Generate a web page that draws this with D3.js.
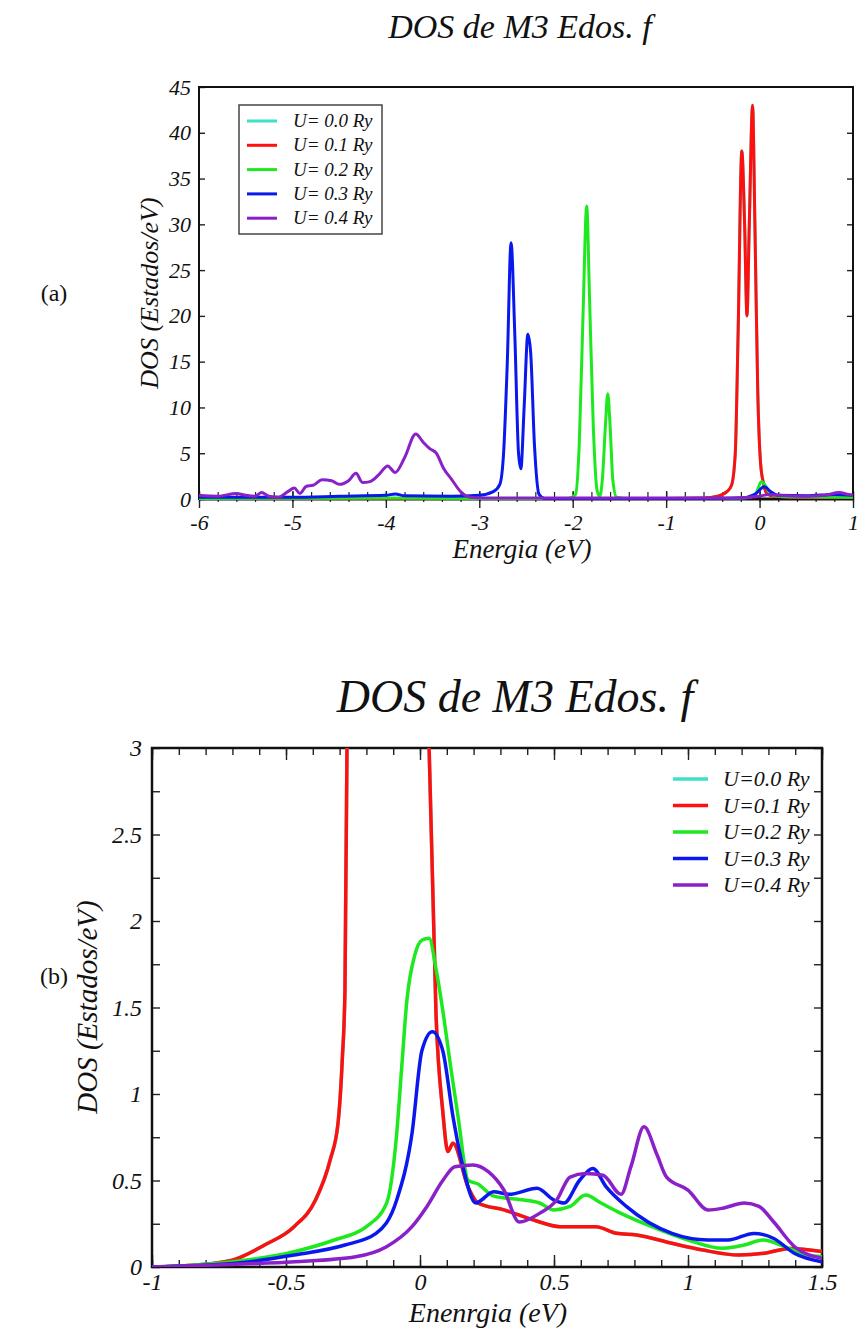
<!doctype html>
<html>
  <head>
    <meta charset="utf-8">
    <title>DOS de M3 Edos. f</title>
    <script src="https://cdnjs.cloudflare.com/ajax/libs/d3/7.8.5/d3.min.js"></script>
    <style>
      body { margin: 0; background: #fff; }
      text { font-family: "Liberation Serif", "Times New Roman", serif; font-style: italic; fill: #111; }
      .panel-tag { font-style: normal; }
      .domain { display: none; }
    </style>
  </head>
  <body>
    <svg id="chart" width="861" height="1331"></svg>

    <script>
    // ---- data ----
    const labels = ['U= 0.0 Ry', 'U= 0.1 Ry', 'U= 0.2 Ry', 'U= 0.3 Ry', 'U= 0.4 Ry'];
    const labelsB = ['U=0.0 Ry', 'U=0.1 Ry', 'U=0.2 Ry', 'U=0.3 Ry', 'U=0.4 Ry'];
    const colors = ['#3fe0c8', '#ff1010', '#1ee81e', '#0a18ee', '#8a20c8'];

    const xTicksA = [-6, -5, -4, -3, -2, -1, 0, 1];
    const yTicksA = [0, 5, 10, 15, 20, 25, 30, 35, 40, 45];
    const xTicksB = [-1, -0.5, 0, 0.5, 1, 1.5];
    const yTicksB = [0, 0.5, 1, 1.5, 2, 2.5, 3];

    // panel (a): energy (eV), DOS
    const aU01 = [[-6,0.05],[-1,0.05],[-0.6,0.1],[-0.45,0.3],[-0.35,0.8],[-0.3,1.5],[-0.26,5],[-0.23,18],
      [-0.19,38],[-0.16,30],[-0.135,20],[-0.11,30],[-0.075,43],[-0.05,30],[-0.02,12],[0.01,4],[0.04,1.8],
      [0.08,0.6],[0.15,0.3],[0.5,0.2],[1,0.2]];
    const aU00 = aU01.map(p => p.slice()); // U=0.0 lies under U=0.1
    const aU02 = [[-6,0.05],[-4,0.1],[-3,0.05],[-2.05,0.05],[-1.97,0.5],[-1.93,6],[-1.89,20],[-1.85,32],
      [-1.82,22],[-1.78,8],[-1.74,1],[-1.71,0.3],[-1.68,2.5],[-1.65,8],[-1.625,11.5],[-1.6,8],[-1.57,2],
      [-1.53,0.2],[-1.4,0.05],[-0.3,0.05],[-0.1,0.2],[-0.03,0.8],[0.02,1.9],[0.06,1.5],[0.12,0.5],[0.2,0.3],[1,0.2]];
    const aU03 = [[-6,0.2],[-5,0.2],[-4.5,0.3],[-4,0.4],[-3.9,0.55],[-3.8,0.35],[-3.3,0.3],[-3.0,0.4],
      [-2.85,0.8],[-2.78,1.6],[-2.74,5],[-2.7,15],[-2.66,28],[-2.62,18],[-2.58,5],[-2.555,3.3],[-2.52,10],
      [-2.48,18],[-2.45,16],[-2.41,6],[-2.36,0.5],[-2.3,0.05],[-0.5,0.05],[-0.2,0.1],[-0.05,0.5],[0.05,1.35],
      [0.12,0.8],[0.2,0.4],[0.5,0.35],[0.8,0.5],[1,0.4]];
    const aU04 = [[-6,0.4],[-5.8,0.3],[-5.6,0.6],[-5.5,0.4],[-5.4,0.3],[-5.33,0.7],[-5.25,0.3],[-5.15,0.2],
      [-5.05,0.8],[-4.98,1.2],[-4.92,0.6],[-4.85,1.4],[-4.78,1.5],[-4.68,2.1],[-4.58,2.0],[-4.5,1.6],[-4.4,2.0],
      [-4.32,2.8],[-4.25,1.8],[-4.17,1.9],[-4.08,2.6],[-3.98,3.6],[-3.9,2.9],[-3.8,4.5],[-3.68,7.1],[-3.6,6.2],
      [-3.53,5.5],[-3.46,5.0],[-3.38,3.3],[-3.3,2.2],[-3.2,0.8],[-3.1,0.2],[-2.9,0.1],[-0.3,0.1],[0,0.3],
      [0.1,0.5],[0.2,0.4],[0.5,0.3],[0.7,0.4],[0.85,0.7],[0.95,0.5],[1,0.4]];

    // panel (b): zoom around the Fermi level
    const bU01 = [[-1,0],[-0.85,0.01],[-0.7,0.04],[-0.58,0.127],[-0.47,0.233],[-0.39,0.387],[-0.335,0.62],
      [-0.306,0.83],[-0.29,1.2],[-0.28,1.6],[-0.27,3.5],[-0.25,10],[-0.19,38],[-0.135,20],[-0.075,43],[0,6],
      [0.034,3.0],[0.06,1.45],[0.085,0.9],[0.104,0.667],[0.123,0.715],[0.18,0.46],[0.216,0.37],[0.313,0.33],
      [0.427,0.27],[0.522,0.233],[0.656,0.233],[0.733,0.195],[0.808,0.185],[0.94,0.137],[1.056,0.098],
      [1.19,0.069],[1.284,0.079],[1.38,0.107],[1.5,0.09]];
    const bU00 = bU01.map(p => p.slice()); // hidden under U=0.1
    const bU02 = [[-1,0],[-0.85,0.01],[-0.7,0.03],[-0.47,0.088],[-0.32,0.156],[-0.2,0.233],[-0.125,0.368],
      [-0.087,0.77],[-0.068,1.16],[-0.049,1.54],[-0.02,1.8],[0.008,1.89],[0.034,1.9],[0.06,1.72],[0.09,1.43],
      [0.115,1.15],[0.142,0.87],[0.18,0.5],[0.216,0.48],[0.275,0.41],[0.37,0.39],[0.446,0.37],[0.5,0.33],
      [0.56,0.35],[0.618,0.416],[0.675,0.37],[0.75,0.31],[0.865,0.233],[1.0,0.156],[1.13,0.108],[1.21,0.127],
      [1.28,0.156],[1.36,0.118],[1.44,0.07],[1.5,0.06]];
    const bU03 = [[-1,0],[-0.7,0.02],[-0.47,0.069],[-0.28,0.127],[-0.164,0.194],[-0.087,0.387],[-0.03,0.77],
      [0.007,1.25],[0.046,1.36],[0.085,1.25],[0.123,0.87],[0.16,0.58],[0.208,0.37],[0.275,0.435],[0.332,0.42],
      [0.437,0.455],[0.5,0.387],[0.537,0.37],[0.595,0.5],[0.645,0.57],[0.694,0.465],[0.77,0.35],[0.94,0.194],
      [1.075,0.156],[1.149,0.156],[1.246,0.194],[1.32,0.165],[1.398,0.078],[1.5,0.03]];
    const bU04 = [[-1,0],[-0.7,0.015],[-0.468,0.03],[-0.24,0.059],[-0.125,0.117],[-0.03,0.233],[0.026,0.35],
      [0.085,0.5],[0.13,0.58],[0.198,0.59],[0.256,0.55],[0.313,0.445],[0.37,0.26],[0.446,0.31],[0.51,0.387],
      [0.56,0.52],[0.618,0.54],[0.683,0.53],[0.75,0.42],[0.787,0.58],[0.836,0.81],[0.884,0.65],[0.92,0.52],
      [1.0,0.445],[1.075,0.33],[1.13,0.34],[1.21,0.37],[1.265,0.35],[1.32,0.26],[1.398,0.117],[1.5,0.05]];

    const svg = d3.select('#chart');
    const fmt = d => String(d);

    // ================= panel (a) =================
    const xa = d3.scaleLinear().domain([-6, 1]).range([199, 853]);
    const ya = d3.scaleLinear().domain([0, 45]).range([499, 87]);
    const ga = svg.append('g');

    ga.append('text').attr('x', 520).attr('y', 38).attr('text-anchor', 'middle')
      .style('font-size', '34px').text('DOS de M3 Edos. f');
    ga.append('text').attr('class', 'panel-tag').attr('x', 54).attr('y', 301).attr('text-anchor', 'middle')
      .style('font-size', '24px').text('(a)');

    // bottom axis: major ticks crossing the zero line, minor every 0.2
    ga.append('g').attr('transform', 'translate(0,' + (ya(0) - 7) + ')')
      .call(d3.axisBottom(xa).tickValues(d3.range(-6, 1.001, 0.2)).tickSize(10).tickFormat(''))
      .selectAll('line').attr('stroke', '#222').attr('stroke-width', 1.2);
    ga.append('g').attr('transform', 'translate(0,' + (ya(0) - 8) + ')')
      .call(d3.axisBottom(xa).tickValues(xTicksA).tickSize(17).tickPadding(6).tickFormat(fmt))
      .call(g => g.selectAll('line').attr('stroke', '#222').attr('stroke-width', 1.4))
      .call(g => g.selectAll('text').style('font-size', '22px').attr('fill', '#111'));
    ga.append('g').attr('transform', 'translate(199,0)')
      .call(d3.axisLeft(ya).tickValues(yTicksA).tickSize(-6).tickPadding(8).tickFormat(fmt))
      .call(g => g.selectAll('line').attr('stroke', '#222').attr('stroke-width', 1.4))
      .call(g => g.selectAll('text').style('font-size', '22px').attr('fill', '#111'));
    ga.append('g').attr('transform', 'translate(853,0)')
      .call(d3.axisRight(ya).tickValues(yTicksA.slice(1, -1)).tickSize(-6).tickFormat(''))
      .selectAll('line').attr('stroke', '#222').attr('stroke-width', 1.4);

    ga.append('rect').attr('x', 199).attr('y', 87).attr('width', 654).attr('height', 412)
      .attr('fill', 'none').attr('stroke', '#111').attr('stroke-width', 2);
    ga.append('line').attr('x1', 199).attr('x2', 853).attr('y1', ya(0)).attr('y2', ya(0))
      .attr('stroke', '#111').attr('stroke-width', 3);

    const lineA = d3.line().x(d => xa(d[0])).y(d => ya(d[1])).curve(d3.curveMonotoneX);
    [aU00, aU01, aU02, aU03, aU04].forEach((s, i) => {
      ga.append('path').datum(s).attr('d', lineA).attr('fill', 'none')
        .attr('stroke', colors[i]).attr('stroke-width', 3).attr('stroke-linejoin', 'round');
    });

    ga.append('text').attr('x', 522).attr('y', 558).attr('text-anchor', 'middle')
      .style('font-size', '27px').text('Energia (eV)');
    ga.append('text').attr('transform', 'translate(158,293) rotate(-90)').attr('text-anchor', 'middle')
      .style('font-size', '26px').text('DOS (Estados/eV)');

    // legend (a)
    ga.append('rect').attr('x', 239).attr('y', 105).attr('width', 143).attr('height', 129)
      .attr('fill', '#fff').attr('stroke', '#444').attr('stroke-width', 1.5);
    labels.forEach((t, i) => {
      const y = 121 + i * 24.3;
      ga.append('line').attr('x1', 247).attr('x2', 277).attr('y1', y).attr('y2', y)
        .attr('stroke', colors[i]).attr('stroke-width', 3);
      ga.append('text').attr('x', 293).attr('y', y + 6).style('font-size', '19px').text(t);
    });

    // ================= panel (b) =================
    const xb = d3.scaleLinear().domain([-1, 1.5]).range([152, 822]);
    const yb = d3.scaleLinear().domain([0, 3]).range([1267, 748]);
    const gb = svg.append('g');

    gb.append('text').attr('x', 515).attr('y', 712).attr('text-anchor', 'middle')
      .style('font-size', '46px').text('DOS de M3 Edos. f');
    gb.append('text').attr('class', 'panel-tag').attr('x', 54).attr('y', 984).attr('text-anchor', 'middle')
      .style('font-size', '24px').text('(b)');

    gb.append('defs').append('clipPath').attr('id', 'clipB')
      .append('rect').attr('x', 152).attr('y', 748).attr('width', 670).attr('height', 519);

    const minorX = d3.range(-1, 1.5001, 0.1);
    const minorY = d3.range(0, 3.001, 0.25);
    const tickStyle = g => g.selectAll('line').attr('stroke', '#222').attr('stroke-width', 1.4);

    gb.append('g').attr('transform', 'translate(0,1267)')
      .call(d3.axisBottom(xb).tickValues(minorX).tickSize(-7).tickFormat('')).call(tickStyle);
    gb.append('g').attr('transform', 'translate(0,1267)')
      .call(d3.axisBottom(xb).tickValues(xTicksB).tickSize(-12).tickPadding(6).tickFormat(fmt))
      .call(tickStyle)
      .call(g => g.selectAll('text').style('font-size', '24px').attr('fill', '#111').attr('dy', '0.71em'));
    gb.append('g').attr('transform', 'translate(0,748)')
      .call(d3.axisTop(xb).tickValues(minorX).tickSize(-7).tickFormat('')).call(tickStyle);
    gb.append('g').attr('transform', 'translate(0,748)')
      .call(d3.axisTop(xb).tickValues(xTicksB).tickSize(-12).tickFormat('')).call(tickStyle);
    gb.append('g').attr('transform', 'translate(152,0)')
      .call(d3.axisLeft(yb).tickValues(minorY).tickSize(-8).tickPadding(10).tickFormat(d => yTicksB.includes(d) ? fmt(d) : ''))
      .call(tickStyle)
      .call(g => g.selectAll('text').style('font-size', '24px').attr('fill', '#111'));
    gb.append('g').attr('transform', 'translate(822,0)')
      .call(d3.axisRight(yb).tickValues(minorY).tickSize(-8).tickFormat('')).call(tickStyle);

    gb.append('rect').attr('x', 152).attr('y', 748).attr('width', 670).attr('height', 519)
      .attr('fill', 'none').attr('stroke', '#111').attr('stroke-width', 2.5);

    const lineB = d3.line().x(d => xb(d[0])).y(d => yb(d[1])).curve(d3.curveMonotoneX);
    const curvesB = gb.append('g').attr('clip-path', 'url(#clipB)');
    [bU00, bU01, bU02, bU03, bU04].forEach((s, i) => {
      curvesB.append('path').datum(s).attr('d', lineB).attr('fill', 'none')
        .attr('stroke', colors[i]).attr('stroke-width', 3.5).attr('stroke-linejoin', 'round');
    });

    gb.append('text').attr('x', 488).attr('y', 1322).attr('text-anchor', 'middle')
      .style('font-size', '28px').text('Enenrgia (eV)');
    gb.append('text').attr('transform', 'translate(97,1007) rotate(-90)').attr('text-anchor', 'middle')
      .style('font-size', '29px').text('DOS (Estados/eV)');

    // legend (b), no box
    labelsB.forEach((t, i) => {
      const y = 779 + i * 26.5;
      gb.append('line').attr('x1', 673).attr('x2', 708).attr('y1', y).attr('y2', y)
        .attr('stroke', colors[i]).attr('stroke-width', 3.5);
      gb.append('text').attr('x', 723).attr('y', y + 7).style('font-size', '22px').text(t);
    });
    </script>
  </body>
</html>
